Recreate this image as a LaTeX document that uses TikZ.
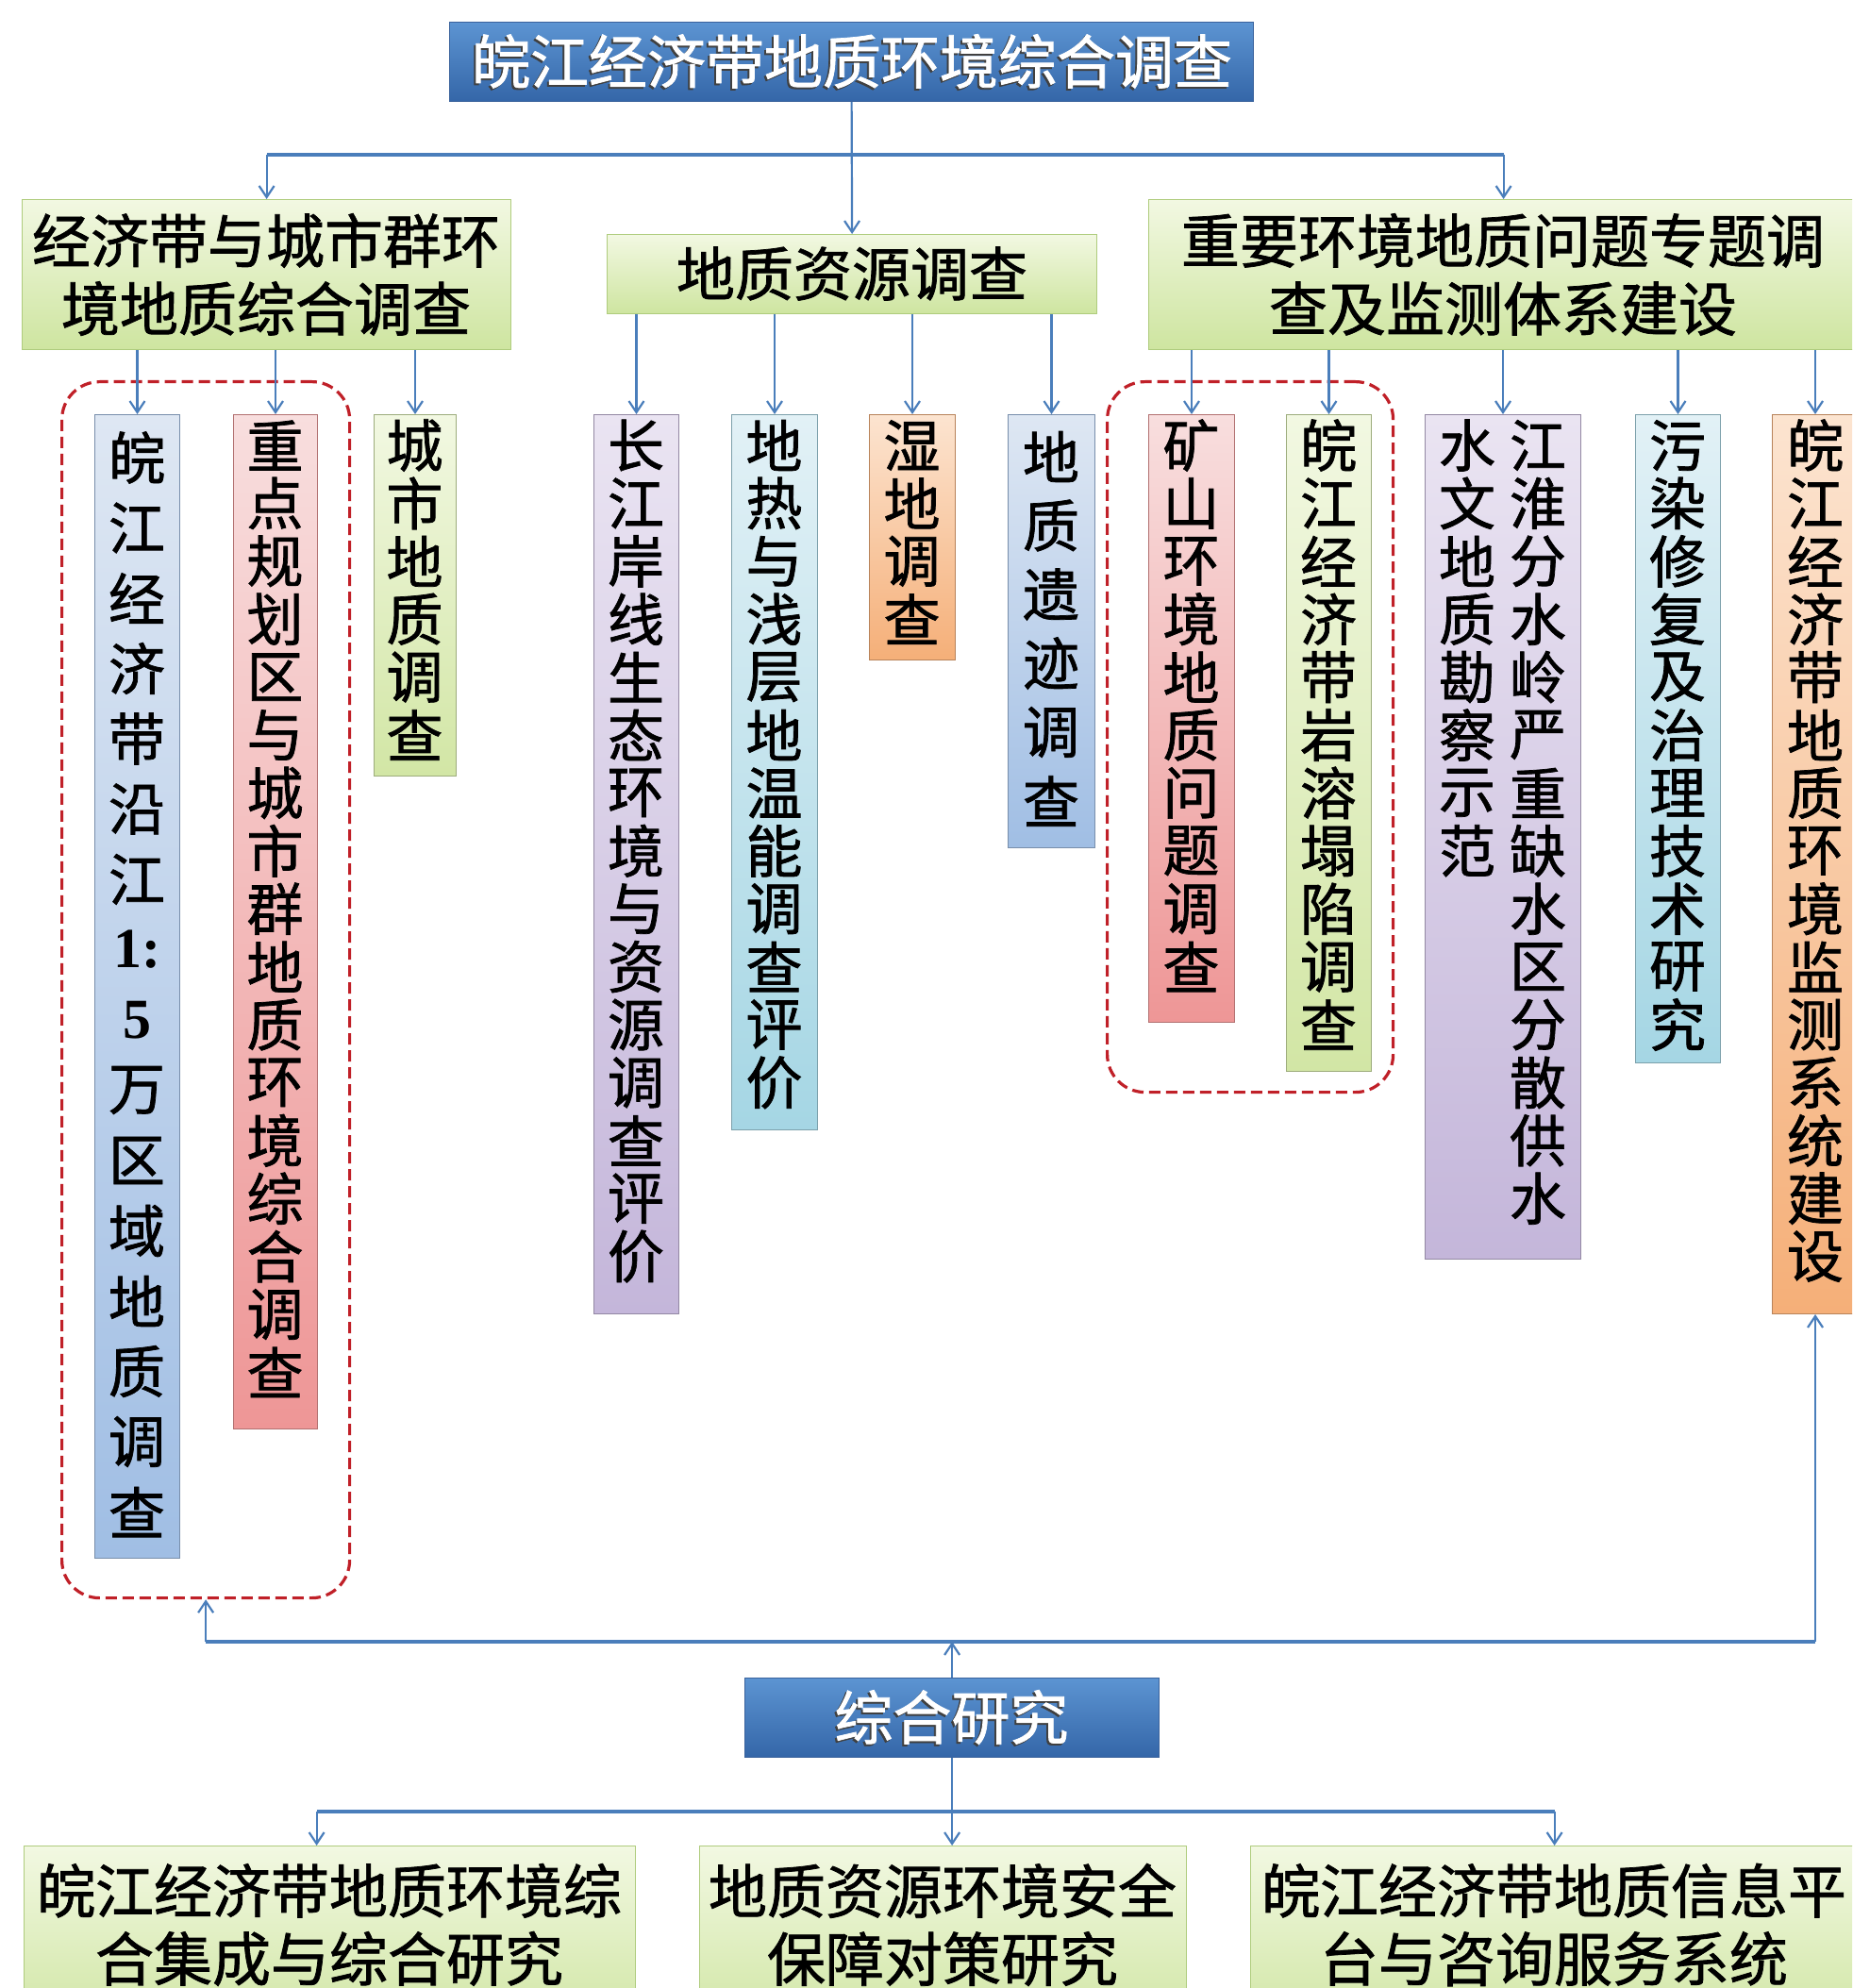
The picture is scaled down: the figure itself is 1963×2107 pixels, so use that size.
\documentclass[tikz,border=0pt]{standalone}
\usepackage{fontspec}
\newfontfamily\cjk{Noto Sans CJK SC}[FakeBold=1.2]
\newfontfamily\lat{Liberation Serif}
\usetikzlibrary{arrows.meta}
\definecolor{arr}{RGB}{74,126,187}
\definecolor{dred}{RGB}{192,32,40}
\definecolor{ttop}{RGB}{92,148,210}
\definecolor{tbot}{RGB}{52,102,168}
\definecolor{tdraw}{RGB}{58,98,156}
\definecolor{gtop}{RGB}{242,248,226}
\definecolor{gbot}{RGB}{206,229,160}
\definecolor{gdraw}{RGB}{175,204,125}
\definecolor{bluetop}{RGB}{222,231,243}\definecolor{bluebot}{RGB}{160,190,228}
\definecolor{pinktop}{RGB}{248,222,222}\definecolor{pinkbot}{RGB}{238,150,150}
\definecolor{grntop}{RGB}{242,248,226}\definecolor{grnbot}{RGB}{210,230,165}
\definecolor{purtop}{RGB}{234,228,242}\definecolor{purbot}{RGB}{196,182,218}
\definecolor{cyatop}{RGB}{226,241,246}\definecolor{cyabot}{RGB}{165,214,228}
\definecolor{orgtop}{RGB}{252,228,208}\definecolor{orgbot}{RGB}{245,175,120}
\newcommand\mkbox[6]{\node[#6, anchor=north west, inner sep=0pt,
  minimum width={(#4-#2)*0.5pt}, minimum height={(#5-#3)*0.5pt}] (#1) at (#2,#3) {};}
\newcommand\vcol[5]{\foreach \c [count=\i from 0] in {#4}
  \node[vtxt] (#5-\i) at (#1,{#2+\i*#3}) {\c};}
\begin{document}
\begin{tikzpicture}[x=0.5pt,y=-0.5pt,
  arrow/.style={draw=arr, line width=1.1pt, -{Straight Barb[length=6pt,width=8pt]}},
  bus/.style={draw=arr, line width=2pt},
  titlebox/.style={top color=ttop, bottom color=tbot, draw=tdraw, line width=0.6pt},
  greenbox/.style={top color=gtop, bottom color=gbot, draw=gdraw, line width=0.6pt},
  vb/.style args={#1}{top color=#1top, bottom color=#1bot, draw=#1bot!75!black, line width=0.5pt},
  dashbox/.style={draw=dred, line width=1.6pt, dash pattern=on 6pt off 3pt, rounded corners=20pt},
  vtxt/.style={font=\cjk\fontsize{30}{30}\selectfont, inner sep=0pt},
  htxt/.style={font=\cjk\fontsize{31}{36}\selectfont, inner sep=0pt, align=center},
  ttxt/.style={font=\cjk\fontsize{31}{36}\selectfont, inner sep=0pt, text=white},
  tshadow/.style={font=\cjk\fontsize{31}{36}\selectfont, inner sep=0pt, text=black!75}
]
\useasboundingbox (0,0) rectangle (1963,2107);
\clip (0,0) rectangle (1963,2107);
\fill[white] (0,0) rectangle (1963,2107);

% top level
\mkbox{T}{476}{23}{1328}{107}{titlebox}
\node[tshadow] (Ts) at (901,67) {皖江经济带地质环境综合调查};
\node[ttxt] (Tt) at (903,65) {皖江经济带地质环境综合调查};

\mkbox{L}{23}{211}{541}{370}{greenbox}
\node[htxt] (Lt) at (282,291) {经济带与城市群环\\境地质综合调查};
\mkbox{M}{643}{248}{1162}{332}{greenbox}
\node[htxt] (Mt) at (903,290) {地质资源调查};
\mkbox{R}{1217}{211}{1969}{370}{greenbox}
\node[htxt] (Rt) at (1593,291) {重要环境地质问题专题调\\查及监测体系建设};

% vertical boxes
\mkbox{b1}{100}{439}{190}{1651}{vb=blue}
\mkbox{b2}{247}{439}{336}{1514}{vb=pink}
\mkbox{b3}{396}{439}{483}{822}{vb=grn}
\mkbox{b4}{629}{439}{719}{1392}{vb=pur}
\mkbox{b5}{775}{439}{866}{1197}{vb=cya}
\mkbox{b6}{921}{439}{1012}{699}{vb=org}
\mkbox{b7}{1068}{439}{1160}{898}{vb=blue}
\mkbox{b8}{1217}{439}{1308}{1083}{vb=pink}
\mkbox{b9}{1363}{439}{1453}{1135}{vb=grn}
\mkbox{b10}{1510}{439}{1675}{1334}{vb=pur}
\mkbox{b11}{1733}{439}{1823}{1126}{vb=cya}
\mkbox{b12}{1878}{439}{1969}{1392}{vb=org}

\vcol{145}{485}{74.5}{皖,江,经,济,带,沿,江,{\lat\bfseries 1:},{\lat\bfseries 5},万,区,域,地,质,调,查}{c1}
\vcol{291.5}{472}{61.4}{重,点,规,划,区,与,城,市,群,地,质,环,境,综,合,调,查}{c2}
\vcol{439.5}{472}{61.4}{城,市,地,质,调,查}{c3}
\vcol{674}{472}{61.4}{长,江,岸,线,生,态,环,境,与,资,源,调,查,评,价}{c4}
\vcol{820.5}{472}{61.4}{地,热,与,浅,层,地,温,能,调,查,评,价}{c5}
\vcol{966.5}{472}{61.4}{湿,地,调,查}{c6}
\vcol{1114}{484}{73}{地,质,遗,迹,调,查}{c7}
\vcol{1262.5}{472}{61.4}{矿,山,环,境,地,质,问,题,调,查}{c8}
\vcol{1408}{472}{61.4}{皖,江,经,济,带,岩,溶,塌,陷,调,查}{c9}
\vcol{1630}{472}{61.4}{江,淮,分,水,岭,严,重,缺,水,区,分,散,供,水}{c10}
\vcol{1555}{472}{61.4}{水,文,地,质,勘,察,示,范}{c10b}
\vcol{1778}{472}{61.4}{污,染,修,复,及,治,理,技,术,研,究}{c11}
\vcol{1924}{472}{61.4}{皖,江,经,济,带,地,质,环,境,监,测,系,统,建,设}{c12}

% dashed groups
\mkbox{D1}{64}{403}{369}{1692}{dashbox}
\mkbox{D2}{1172}{403}{1475}{1156}{dashbox}

% top connectors
\coordinate (busA) at (903,164);
\draw[bus] (L.north |- busA) -- (R.north |- busA);
\draw[arrow] (L.north |- busA) -- (L.north);
\draw[arrow] (R.north |- busA) -- (R.north);
\draw[arrow] (T.south) -- (M.north);
\foreach \b in {b1,b2,b3} \draw[arrow] (\b.north |- L.south) -- (\b.north);
\foreach \b in {b4,b5,b6,b7} \draw[arrow] (\b.north |- M.south) -- (\b.north);
\foreach \b in {b8,b9,b10,b11,b12} \draw[arrow] (\b.north |- R.south) -- (\b.north);

% bottom level
\mkbox{S}{789}{1778}{1228}{1862}{titlebox}
\node[tshadow] (Sts) at (1006.5,1822) {综合研究};
\node[ttxt] (St) at (1008.5,1820) {综合研究};

\mkbox{B1}{25}{1956}{673}{2160}{greenbox}
\node[htxt] (B1t) at (349,2040) {皖江经济带地质环境综\\合集成与综合研究};
\mkbox{B2}{741}{1956}{1257}{2160}{greenbox}
\node[htxt] (B2t) at (999,2040) {地质资源环境安全\\保障对策研究};
\mkbox{B3}{1325}{1956}{1969}{2160}{greenbox}
\node[htxt] (B3t) at (1647,2040) {皖江经济带地质信息平\\台与咨询服务系统};

\coordinate (busB) at (1008,1740);
\draw[bus] (D1.south |- busB) -- (b12.south |- busB);
\draw[arrow] (D1.south |- busB) -- (D1.south);
\draw[arrow] (b12.south |- busB) -- (b12.south);
\draw[arrow] (S.north) -- (S.north |- busB);

\coordinate (busC) at (1008,1920);
\draw[bus] ([xshift=-7pt]B1.north |- busC) -- (B3.north |- busC);
\draw[arrow] ([xshift=-7pt]B1.north |- busC) -- ([xshift=-7pt]B1.north);
\draw[arrow] (B3.north |- busC) -- (B3.north);
\draw[arrow] (S.south) -- (S.south |- B2.north);
\end{tikzpicture}
\end{document}
